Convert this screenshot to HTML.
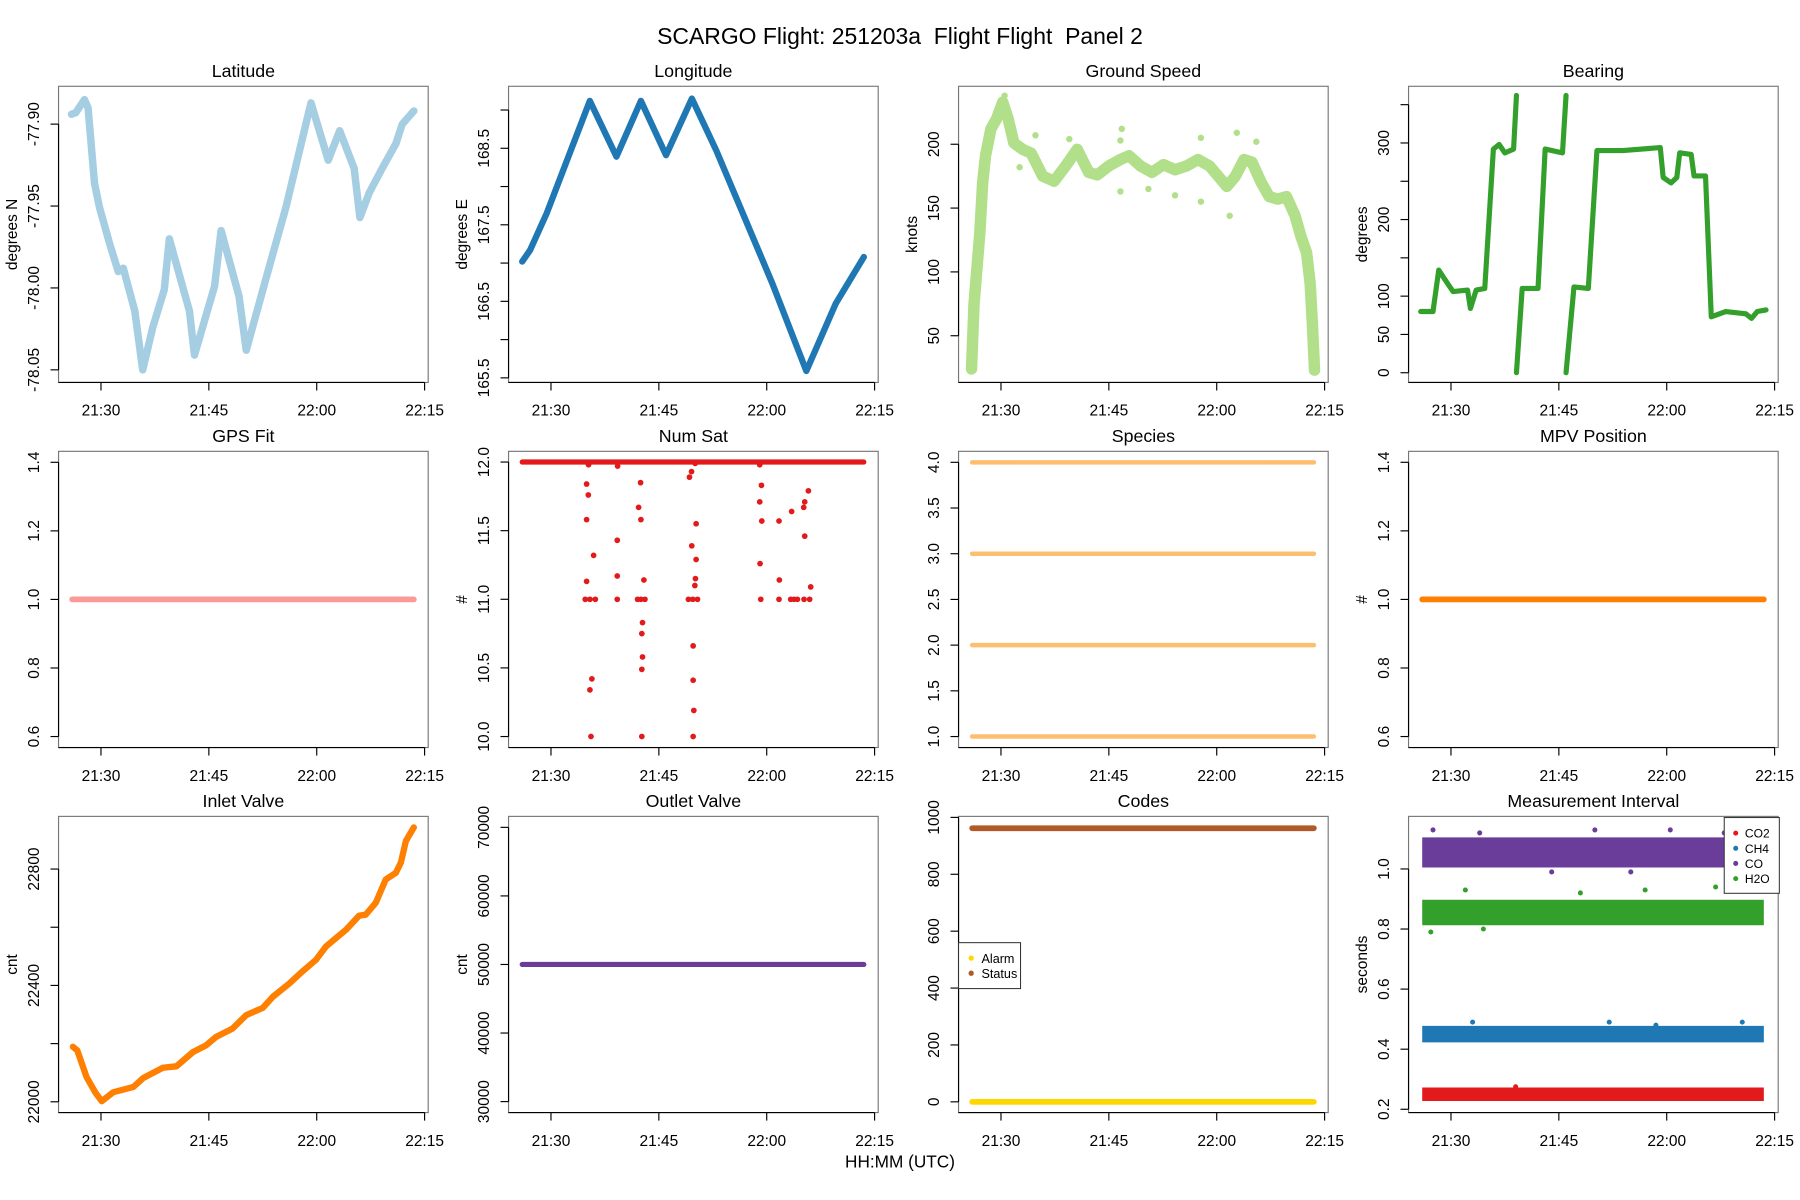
<!DOCTYPE html>
<html><head><meta charset="utf-8"><title>SCARGO Flight Panel 2</title>
<style>
html,body{margin:0;padding:0;background:#fff;}
svg{display:block;font-family:"Liberation Sans",Arial,sans-serif;}
</style></head>
<body>
<svg id="chart" xmlns="http://www.w3.org/2000/svg" width="1800" height="1200" viewBox="0 0 1568 1045">
<rect x="0" y="0" width="1568" height="1045" fill="#fff"/>
<text x="784" y="38" font-size="20" text-anchor="middle" style="white-space:pre">SCARGO Flight: 251203a  Flight Flight  Panel 2</text>
<text x="784" y="1017" font-size="15" text-anchor="middle">HH:MM (UTC)</text>
</svg>
<script>
// ---- data (time in minutes after 21:30 UTC) ----
const timeTickLabels = ["21:30","21:45","22:00","22:15"];
const timeTickValues = [0, 15, 30, 45];
const flightStart = -4.0;
const flightEnd = 43.5;

const latTimes = [-4.1,-3.5,-2.3,-1.8,-0.9,-0.2,1.2,2.4,3.1,4.7,5.8,7.2,8.8,9.5,12.3,13.0,15.8,16.7,19.2,20.2,22.9,25.7,29.2,31.6,33.2,35.2,36.0,37.3,39.1,41.0,41.9,43.5];
const latValues = [-77.894,-77.893,-77.885,-77.890,-77.936,-77.951,-77.973,-77.990,-77.988,-78.014,-78.050,-78.024,-78.001,-77.970,-78.014,-78.041,-77.999,-77.965,-78.005,-78.038,-77.995,-77.951,-77.887,-77.922,-77.904,-77.927,-77.957,-77.942,-77.927,-77.912,-77.900,-77.892];

const lonTimes = [-4.0,-2.9,-0.6,5.4,9.1,12.5,16.0,19.6,23.0,30.8,35.5,39.6,43.5];
const lonValues = [167.02,167.17,167.65,169.12,168.39,169.12,168.41,169.15,168.47,166.73,165.59,166.47,167.08];

const gsTimes = [-4.1,-3.75,-2.95,-2.55,-2.15,-1.4,-0.6,0.25,1.0,1.8,3.0,4.2,5.8,7.4,9.0,10.6,12.2,13.4,15.0,16.6,17.8,19.4,21.0,22.6,24.2,25.8,27.4,29.0,30.2,31.4,32.6,33.8,34.9,36.2,37.3,38.5,39.7,40.9,41.7,42.5,43.0,43.3,43.6];
const gsValues = [24,75,130,170,191,212,220,233,220,201,196,193,175,171,183,196,178,176,183,188,191,183,178,184,180,183,188,183,175,167,175,188,186,170,159,157,159,144,128,115,91,60,23];
const gsOutTimes = [16.8,16.6,27.8,32.8,35.5,16.6,24.2,27.8,31.8,4.8,2.6,0.5,9.5,20.5];
const gsOutValues = [212,203,205,209,202,163,160,155,144,207,182,238,204,165];

const brgTimes = [-4.2,-2.5,-1.7,-0.5,0.3,2.3,2.7,3.5,4.7,5.9,6.7,7.5,8.7,9.1,null,9.1,9.9,12.1,13.1,15.5,16.0,null,16.0,17.1,19.1,20.3,23.9,29.1,29.5,30.6,31.4,31.8,33.4,33.8,35.4,36.2,38.2,41.0,41.8,42.6,43.8];
const brgValues = [80,80,134,117,106,108,84,108,110,292,298,287,292,362,null,0,110,110,292,287,362,null,0,112,110,290,290,294,255,248,255,287,285,257,257,73,80,77,71,80,82];

const gpsFitValue = 1.0;

const satLineValue = 12;
const satTimes = [5.23,4.95,5.19,4.95,5.93,4.95,4.77,5.42,6.16,5.69,5.42,5.56,
  9.26,9.21,9.21,9.21,
  12.45,12.18,12.5,12.92,12.04,12.5,13.06,12.73,12.64,12.73,12.64,12.64,
  20.05,19.54,19.26,20.19,19.58,20.19,20.09,20.0,19.12,19.72,20.37,19.77,19.77,19.86,19.77,
  29.03,29.26,29.03,29.31,29.07,29.17,
  31.71,31.76,31.71,33.47,33.33,33.8,34.26,35.28,35.14,35.79,35.28,36.11,35.19,35.97];
const satValues = [11.98,11.84,11.76,11.58,11.32,11.13,11.0,11.0,11.0,10.42,10.34,10.0,
  11.97,11.43,11.17,11.0,
  11.85,11.67,11.58,11.14,11.0,11.0,11.0,10.83,10.75,10.58,10.49,10.0,
  11.99,11.93,11.89,11.55,11.39,11.29,11.15,11.1,11.0,11.0,11.0,10.66,10.41,10.19,10.0,
  11.98,11.83,11.71,11.57,11.26,11.0,
  11.57,11.14,11.0,11.64,11.0,11.0,11.0,11.71,11.67,11.79,11.46,11.09,11.0,11.0];

const speciesValues = [1,2,3,4];
const mpvValue = 1.0;

const inletTimes = [-3.9,-3.3,-2.0,-0.8,0.1,1.7,4.5,5.9,8.6,10.5,12.8,14.6,16.0,18.3,20.2,22.5,23.9,26.2,28.0,29.9,31.3,34.1,35.9,36.8,38.2,39.6,41.0,41.7,42.4,43.5];
const inletValues = [22189,22177,22085,22033,22002,22033,22051,22082,22117,22122,22171,22194,22223,22252,22298,22323,22361,22407,22448,22488,22534,22592,22640,22643,22684,22764,22787,22822,22897,22943];

const outletValue = 50000;

const codeNames = ["Alarm","Status"];
const codeValues = [0, 962];

const intervalSeries = ["CO2","CH4","CO","H2O"];
const intervalMeans = [0.250, 0.450, 1.055, 0.855];
const intervalSpread = [0.045, 0.055, 0.100, 0.085];
const intervalOutTimes = [-2.5,4.0,20.0,30.5,38.0,14.0,25.0,2.0,18.0,27.0,36.8,4.5,3.0,22.0,28.5,40.5,-2.8,9.0];
const intervalOutValues = [1.13,1.12,1.13,1.13,1.12,0.99,0.99,0.93,0.92,0.93,0.94,0.80,0.49,0.49,0.48,0.49,0.79,0.275];
const intervalOutSeries = [2,2,2,2,2,2,2,3,3,3,3,3,1,1,1,1,3,0];

// ---- rendering ----
const NS = "http://www.w3.org/2000/svg";
const svg = document.getElementById("chart");
const colLeft = [51, 443, 835, 1227];
const rowTop = [75, 393, 711];
const PW = 322, PH = 258;
const XMIN = -5.9, XMAX = 45.5;

function mk(tag, attrs, parent) {
  const e = document.createElementNS(NS, tag);
  for (const k in attrs) e.setAttribute(k, attrs[k]);
  (parent || svg).appendChild(e);
  return e;
}

function makePanel(col, row, title, ylab, ymin, ymax, ticks, labels, key) {
  const L = colLeft[col], T = rowTop[row];
  const g = mk("g", {});
  
  
  const sx = t => L + (t - XMIN) / (XMAX - XMIN) * PW;
  const sy = v => T + PH - (v - ymin) / (ymax - ymin) * PH;
  const frame = mk("rect", {x: L, y: T, width: PW, height: PH, fill: "none", stroke: "#777", "stroke-width": 1}, g);
  
  
  const tt = mk("text", {x: L + PW / 2, y: T - 8, "font-size": 15.5, "text-anchor": "middle"}, g);
  tt.textContent = title;
  
  
  const xa = mk("g", {}, g);
  
  
  mk("line", {x1: L, x2: sx(timeTickValues[timeTickValues.length - 1]), y1: T + PH, y2: T + PH, stroke: "#000", "stroke-width": 1}, xa);
  timeTickValues.forEach((tv, i) => {
    mk("line", {x1: sx(tv), x2: sx(tv), y1: T + PH, y2: T + PH + 7, stroke: "#000", "stroke-width": 1}, xa);
    const lb = mk("text", {x: sx(tv), y: T + PH + 29, "font-size": 13.5, "text-anchor": "middle"}, xa);
    lb.textContent = timeTickLabels[i];
    
    
  });
  const ya = mk("g", {}, g);
  
  
  mk("line", {x1: L, x2: L, y1: sy(ticks[0]), y2: sy(ticks[ticks.length - 1]), stroke: "#000", "stroke-width": 1}, ya);
  ticks.forEach((tv, i) => {
    const y = sy(tv);
    mk("line", {x1: L - 7, x2: L, y1: y, y2: y, stroke: "#000", "stroke-width": 1}, ya);
    if (labels[i] !== "") {
      const lb = mk("text", {x: L - 17, y: y, "font-size": 13.5, "text-anchor": "middle", transform: "rotate(-90 " + (L - 17) + " " + y + ")"}, ya);
      lb.textContent = labels[i];
      
      
    }
  });
  if (ylab) {
    const yl = mk("text", {x: L - 36, y: T + PH / 2, "font-size": 13.5, "text-anchor": "middle", transform: "rotate(-90 " + (L - 36) + " " + (T + PH / 2) + ")"}, g);
    yl.textContent = ylab;
    
    
  }
  return {g, sx, sy};
}

function linePath(p, xs, ys, color, w, name) {
  let d = "", pen = false;
  for (let i = 0; i < xs.length; i++) {
    if (xs[i] === null || ys[i] === null) { pen = false; continue; }
    d += (pen ? "L" : "M") + p.sx(xs[i]).toFixed(1) + " " + p.sy(ys[i]).toFixed(1);
    pen = true;
  }
  const e = mk("path", {d: d, fill: "none", stroke: color, "stroke-width": w, "stroke-linecap": "round", "stroke-linejoin": "round"}, p.g);
  
  
  return e;
}
function dots(p, xs, ys, color, r, name) {
  const gg = mk("g", {fill: color}, p.g);
  
  
  for (let i = 0; i < xs.length; i++) mk("circle", {cx: p.sx(xs[i]).toFixed(1), cy: p.sy(ys[i]).toFixed(1), r: r}, gg);
}

let p = makePanel(0, 0, "Latitude", "degrees N", -78.0577, -77.8769, [-78.05,-78.00,-77.95,-77.90], ["-78.05","-78.00","-77.95","-77.90"], "latitude");
linePath(p, latTimes, latValues, "#a6cee3", 6.5, "latitude-line");
p = makePanel(1, 0, "Longitude", "degrees E", 165.44, 169.31, [165.5,166,166.5,167,167.5,168,168.5,169], ["165.5","","166.5","","167.5","","168.5",""], "longitude");
linePath(p, lonTimes, lonValues, "#1f78b4", 5.5, "longitude-line");
p = makePanel(2, 0, "Ground Speed", "knots", 13.4, 245.4, [50,100,150,200], ["50","100","150","200"], "ground-speed");
linePath(p, gsTimes, gsValues, "#b2df8a", 10, "ground-speed-trace");
dots(p, gsOutTimes, gsOutValues, "#b2df8a", 2.8, "ground-speed-scatter-points");
p = makePanel(3, 0, "Bearing", "degrees", -12.7, 374, [0,50,100,150,200,250,300,350], ["0","50","100","","200","","300",""], "bearing");
linePath(p, brgTimes, brgValues, "#33a02c", 4.5, "bearing-line");
p = makePanel(0, 1, "GPS Fit", "", 0.568, 1.432, [0.6,0.8,1.0,1.2,1.4], ["0.6","0.8","1.0","1.2","1.4"], "gps-fit");
linePath(p, [flightStart, flightEnd], [gpsFitValue, gpsFitValue], "#fb9a99", 5, "gps-fit-line");
p = makePanel(1, 1, "Num Sat", "#", 9.92, 12.078, [10,10.5,11,11.5,12], ["10.0","10.5","11.0","11.5","12.0"], "num-sat");
linePath(p, [flightStart, flightEnd], [satLineValue, satLineValue], "#e31a1c", 4.5, "num-sat-baseline");
dots(p, satTimes, satValues, "#e31a1c", 2.5, "num-sat-dropout-points");
p = makePanel(2, 1, "Species", "", 0.88, 4.12, [1,1.5,2,2.5,3,3.5,4], ["1.0","1.5","2.0","2.5","3.0","3.5","4.0"], "species");
speciesValues.forEach((v, i) => linePath(p, [flightStart, flightEnd], [v, v], "#fdbf6f", 4, "species-line-" + v));
p = makePanel(3, 1, "MPV Position", "#", 0.568, 1.432, [0.6,0.8,1.0,1.2,1.4], ["0.6","0.8","1.0","1.2","1.4"], "mpv-position");
linePath(p, [flightStart, flightEnd], [mpvValue, mpvValue], "#ff7f00", 5, "mpv-position-line");
p = makePanel(0, 2, "Inlet Valve", "cnt", 21963, 22981, [22000,22200,22400,22600,22800], ["22000","","22400","","22800"], "inlet-valve");
linePath(p, inletTimes, inletValues, "#ff7f00", 5.5, "inlet-valve-line");
p = makePanel(1, 2, "Outlet Valve", "cnt", 28400, 71600, [30000,40000,50000,60000,70000], ["30000","40000","50000","60000","70000"], "outlet-valve");
linePath(p, [flightStart, flightEnd], [outletValue, outletValue], "#6a3d9a", 4.5, "outlet-valve-line");
p = makePanel(2, 2, "Codes", "", -37.7, 1003.5, [0,200,400,600,800,1000], ["0","200","400","600","800","1000"], "codes");
const codeColors = ["#ffd700", "#b15928"];
codeValues.forEach((v, i) => linePath(p, [flightStart, flightEnd], [v, v], codeColors[i], 5, "codes-" + codeNames[i].toLowerCase() + "-line"));
{
  const lg = mk("g", {}, p.g);
  
  
  mk("rect", {x: 835, y: 821, width: 54, height: 40, fill: "#fff", stroke: "#333", "stroke-width": 0.9}, lg);
  codeNames.forEach((n, i) => {
    const y = 834.5 + i * 13.1;
    mk("circle", {cx: 846, cy: y, r: 2.3, fill: codeColors[i]}, lg);
    const t = mk("text", {x: 855, y: y + 4, "font-size": 11}, lg);
    t.textContent = n;
    
    
  });
}
p = makePanel(3, 2, "Measurement Interval", "seconds", 0.189, 1.175, [0.2,0.4,0.6,0.8,1.0], ["0.2","0.4","0.6","0.8","1.0"], "measurement-interval");
const intervalColors = ["#e31a1c", "#1f78b4", "#6a3d9a", "#33a02c"];
intervalSeries.forEach((s, i) => {
  const w = intervalSpread[i] * PH / (1.175 - 0.189);
  const e = linePath(p, [flightStart, flightEnd], [intervalMeans[i], intervalMeans[i]], intervalColors[i], w, "interval-" + s.toLowerCase() + "-band");
  e.setAttribute("stroke-linecap", "butt");
});
intervalOutTimes.forEach((t, i) => {
  const c = mk("circle", {cx: p.sx(t).toFixed(1), cy: p.sy(intervalOutValues[i]).toFixed(1), r: 2.2, fill: intervalColors[intervalOutSeries[i]]}, p.g);
  
  
});
{
  const lg = mk("g", {}, p.g);
  
  
  mk("rect", {x: 1502, y: 712, width: 48, height: 66, fill: "#fff", stroke: "#333", "stroke-width": 0.9}, lg);
  intervalSeries.forEach((n, i) => {
    const y = 725.6 + i * 13.2;
    mk("circle", {cx: 1512, cy: y, r: 2.2, fill: intervalColors[i]}, lg);
    const t = mk("text", {x: 1520, y: y + 4, "font-size": 10.5}, lg);
    t.textContent = n;
    
    
  });
}
</script>
</body></html>
